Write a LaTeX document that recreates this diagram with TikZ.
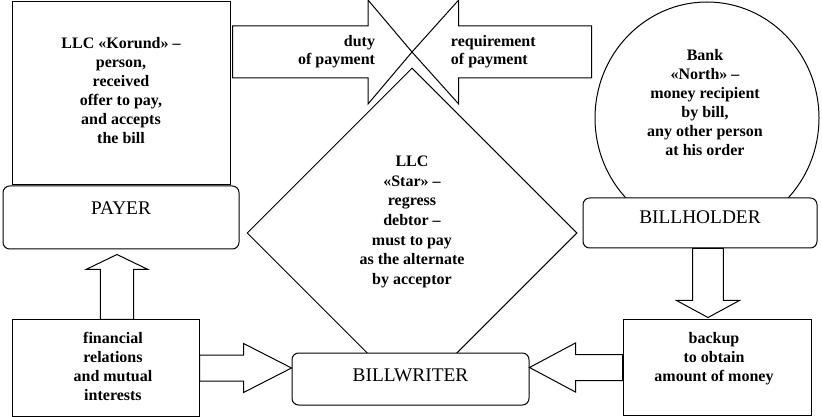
\documentclass[tikz,border=0pt]{standalone}
\usepackage{fontspec}
\setmainfont{Liberation Serif}[BoldFont={Liberation Serif Bold}]
\usetikzlibrary{positioning,calc,shapes.geometric}

% block arrow: name, tail, tip, half body, half head, head length
\newcommand{\fatarrow}[6]{%
  \coordinate (#1s) at (#2);
  \coordinate (#1e) at (#3);
  \coordinate (#1n) at ($(#1e)!#6!(#1s)$);
  \draw[fat] ($(#1s)!#4!90:(#1e)$) -- ($(#1n)!#4!90:(#1e)$) -- ($(#1n)!#5!90:(#1e)$) -- (#1e)
    -- ($(#1n)!#5!-90:(#1e)$) -- ($(#1n)!#4!-90:(#1e)$) -- ($(#1s)!#4!-90:(#1e)$) -- cycle;
}

\begin{document}
\begin{tikzpicture}[
        x=0.75pt, y=-0.75pt,
        line width=0.75pt,
        txt/.style={align=center, font=\fontsize{12}{14.25}\selectfont\bfseries},
        plain/.style={rectangle, draw=black, fill=white, inner sep=0pt},
        role/.style={rectangle, rounded corners=5pt, draw=black, fill=white, inner sep=0pt, font=\fontsize{14.5}{17}\selectfont, text height=10pt},
        fat/.style={draw=black, fill=white, line join=miter}
    ]

    \useasboundingbox (0,0) rectangle (822,417);

    \node[plain, minimum width=163.5pt, minimum height=137.25pt,
        label={[txt, yshift=2.6pt]center:{LLC «Korund» --\\person,\\received\\offer to pay,\\and accepts\\the bill}}] (korund) at (121,93.5) {};
    \node[role, below=0pt of korund, minimum width=177pt, minimum height=47.25pt, text depth=13.75pt] (payer) {PAYER};

    \node[diamond, draw=black, inner sep=0pt, minimum width=247.5pt, minimum height=247.5pt,
        label={[txt, font=\fontsize{12}{14.75}\selectfont\bfseries, yshift=8.25pt]center:{LLC\\«Star» --\\regress\\debtor --\\must to pay\\as the alternate\\by acceptor}}] (star) at (412,233) {};

    \node[ellipse, draw=black, inner sep=0pt, minimum width=168pt, minimum height=174pt,
        label={[txt, xshift=-1.5pt, yshift=11.6pt]center:{Bank\\«North» --\\money recipient\\by bill,\\any other person\\at his order}}] (bank) at (707,118) {};
    \node[role, minimum width=175.5pt, minimum height=37.5pt, text depth=8.5pt] (bholder) at (700,223) {BILLHOLDER};

    \node[plain, minimum width=140.25pt, minimum height=72pt,
        label={[txt, xshift=5.6pt, yshift=1.1pt]center:{financial\\relations\\and mutual\\interests}}] (fin) at (105.5,368) {};
    \node[role, minimum width=177.75pt, minimum height=39pt, text depth=7pt] (bw) at (410.5,379) {BILLWRITER};
    \node[plain, minimum width=141pt, minimum height=71.25pt,
        label={[txt, xshift=-2.25pt, yshift=6.4pt]center:{backup\\to obtain\\amount of money}}] (backup) at (717,367.5) {};

    \coordinate (cross) at (412,52);

    \fatarrow{duty}{$(korund.east |- cross)+(1.5pt,0)$}{cross}{19.5pt}{39pt}{33pt}
    \fatarrow{claim}{$(bank.west |- cross)+(-2.25pt,0)$}{cross}{19.5pt}{39pt}{35pt}
    \node[txt, font=\fontsize{12}{13.5}\selectfont\bfseries, align=right, anchor=east] (dutytxt) at ($(cross)+(-24pt,0)$) {duty\\of payment};
    \node[txt, font=\fontsize{12}{13.5}\selectfont\bfseries, align=left, anchor=west] (claimtxt) at ($(cross)+(25.5pt,0)$) {requirement\\of payment};

    \fatarrow{up}{$(fin.north)+(8.6pt,0)$}{$(fin.north |- payer.south)+(8.6pt,-3.75pt)$}{12.4pt}{23.25pt}{11.25pt}
    \fatarrow{down}{$(bholder.south)+(6pt,0)$}{$(bholder.south |- backup.north)+(6pt,1.5pt)$}{11.6pt}{23.6pt}{12.75pt}
    \fatarrow{fin}{fin.east}{bw.west |- fin.east}{9.75pt}{18.4pt}{36pt}
    \fatarrow{back}{backup.west}{bw.east |- backup.west}{9.75pt}{18.4pt}{34.5pt}

\end{tikzpicture}
\end{document}
